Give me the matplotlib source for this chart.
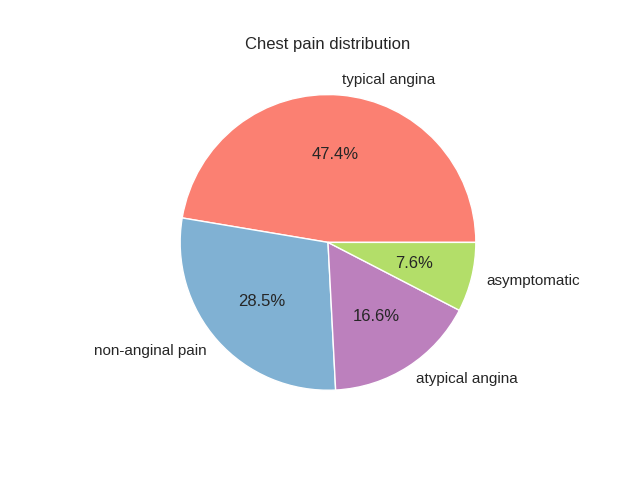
import matplotlib
matplotlib.use("Agg")
import matplotlib.pyplot as plt
import seaborn as sns

sns.set_theme(style="white")
plt.rcParams['font.family'] = ['Liberation Sans', 'DejaVu Sans']

labels = ['typical angina', 'non-anginal pain', 'atypical angina', 'asymptomatic']
shares = [47.4, 28.5, 16.6, 7.6]
colors = ['#fb8072', '#80b1d3', '#bc80bd', '#b3de69']

fig, ax = plt.subplots(figsize=(6.4, 4.8), dpi=100)
ax.pie(shares, labels=labels, colors=colors, autopct='%1.1f%%',
       wedgeprops={'edgecolor': 'white', 'linewidth': 1})
ax.set_title('Chest pain distribution')
fig.savefig('out.png')
